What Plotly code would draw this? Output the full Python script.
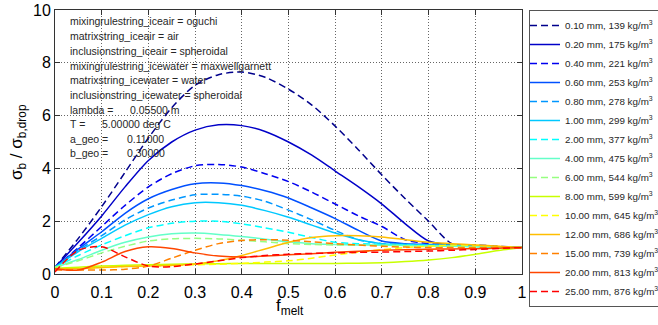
import plotly.graph_objects as go

# ---------------- data ----------------
f_melt = [0.00, 0.05, 0.10, 0.15, 0.20, 0.25, 0.30, 0.35, 0.40, 0.45, 0.50,
          0.55, 0.60, 0.65, 0.70, 0.75, 0.80, 0.85, 0.90, 0.95, 1.00]

d010 = [0.25, 1.35, 2.55, 3.85, 5.15, 6.30, 7.15, 7.55, 7.65, 7.45, 7.00,
        6.40, 5.60, 4.70, 3.75, 2.85, 2.00, 1.15, 1.10, 1.05, 1.00]
d020 = [0.25, 1.20, 2.20, 3.30, 4.30, 5.00, 5.45, 5.65, 5.62, 5.40, 5.00,
        4.50, 3.90, 3.30, 2.65, 1.90, 1.25, 1.10, 1.07, 1.03, 1.00]
d040 = [0.25, 1.00, 1.80, 2.60, 3.30, 3.80, 4.10, 4.15, 4.05, 3.80, 3.50,
        3.10, 2.65, 2.20, 1.80, 1.30, 1.15, 1.10, 1.06, 1.03, 1.00]
d060 = [0.25, 0.95, 1.60, 2.30, 2.85, 3.20, 3.42, 3.45, 3.35, 3.15, 2.88,
        2.50, 2.10, 1.65, 1.25, 1.15, 1.12, 1.10, 1.06, 1.03, 1.00]
d080 = [0.25, 0.90, 1.45, 2.05, 2.50, 2.80, 3.00, 3.02, 2.95, 2.75, 2.42,
        2.05, 1.65, 1.30, 1.15, 1.12, 1.10, 1.08, 1.05, 1.03, 1.00]
d100 = [0.25, 0.85, 1.35, 1.85, 2.25, 2.55, 2.70, 2.70, 2.60, 2.40, 2.15,
        1.85, 1.55, 1.30, 1.15, 1.12, 1.10, 1.08, 1.05, 1.03, 1.00]
d200 = [0.25, 0.70, 1.10, 1.45, 1.75, 1.92, 2.00, 2.00, 1.90, 1.75, 1.58,
        1.38, 1.20, 1.15, 1.12, 1.10, 1.08, 1.06, 1.04, 1.02, 1.00]
d400 = [0.25, 0.55, 0.90, 1.20, 1.40, 1.52, 1.55, 1.50, 1.42, 1.32, 1.22,
        1.15, 1.12, 1.10, 1.09, 1.08, 1.06, 1.05, 1.03, 1.02, 1.00]
d600 = [0.25, 0.50, 0.80, 1.05, 1.25, 1.33, 1.35, 1.33, 1.28, 1.22, 1.15,
        1.12, 1.10, 1.09, 1.08, 1.07, 1.06, 1.05, 1.03, 1.02, 1.00]
d800 = [0.22, 0.26, 0.30, 0.33, 0.35, 0.37, 0.38, 0.39, 0.40, 0.40, 0.40,
        0.40, 0.40, 0.41, 0.43, 0.47, 0.53, 0.62, 0.75, 0.89, 1.00]
d1000 = [0.18, 0.20, 0.25, 0.28, 0.30, 0.32, 0.35, 0.37, 0.40, 0.45, 0.50,
         0.60, 0.72, 0.83, 0.92, 1.00, 1.05, 1.10, 1.08, 1.04, 1.00]
d1200 = [0.20, 0.20, 0.25, 0.28, 0.30, 0.33, 0.38, 0.50, 0.70, 0.95, 1.20,
         1.38, 1.45, 1.45, 1.40, 1.30, 1.20, 1.15, 1.10, 1.05, 1.00]
d1500 = [0.15, 0.15, 0.15, 0.18, 0.30, 0.60, 0.90, 1.15, 1.27, 1.30, 1.28,
         1.22, 1.15, 1.10, 1.05, 1.02, 1.00, 1.00, 1.00, 1.00, 1.00]
d2000 = [0.20, 0.15, 0.45, 0.85, 1.03, 0.97, 0.80, 0.68, 0.64, 0.68, 0.73,
         0.77, 0.82, 0.86, 0.90, 0.92, 0.94, 0.95, 0.96, 0.98, 1.00]
d2500 = [0.08, 0.90, 1.03, 0.65, 0.30, 0.28, 0.38, 0.50, 0.62, 0.70, 0.75,
         0.78, 0.80, 0.82, 0.83, 0.85, 0.87, 0.90, 0.93, 0.97, 1.00]

series = [d010, d020, d040, d060, d080, d100, d200, d400, d600, d800,
          d1000, d1200, d1500, d2000, d2500]
diam_mm = [0.10, 0.20, 0.40, 0.60, 0.80, 1.00, 2.00, 4.00, 6.00, 8.00,
           10.00, 12.00, 15.00, 20.00, 25.00]
density = [139, 175, 221, 253, 278, 299, 377, 475, 544, 599,
           645, 686, 739, 813, 876]

info_keys = ["mixingrulestring_iceair = oguchi",
             "matrixstring_iceair = air",
             "inclusionstring_iceair = spheroidal",
             "mixingrulestring_icewater = maxwellgarnett",
             "matrixstring_icewater = water",
             "inclusionstring_icewater = spheroidal",
             "lambda =",
             "T =",
             "a_geo =",
             "b_geo ="]
info_vals = ["", "", "", "", "", "", "0.05500 m", "5.00000 deg C", "0.11000", "0.30000"]

# ---------------- style ----------------
colors = ['#00008C', '#0000C8', '#0000F0', '#0050FF', '#0096FF', '#00C8FF',
          '#00FFFF', '#64FFC8', '#96FF80', '#C8FF00', '#FFFF00', '#FFBE00',
          '#FF8000', '#FF4600', '#FF0000']
DASH = "7px,4px"

W, H = 658, 325
PL, PR, PT, PB = 55, 522, 10, 274   # plot box in pixels
L, R, T, B = PL, W - PR, PT, H - PB
pw, ph = W - L - R, H - T - B


def px2paper(x, y):
    return (x - PL) / pw, (PB - y) / ph


fig = go.Figure()
for i, ys in enumerate(series):
    fig.add_trace(go.Scatter(
        x=f_melt, y=ys, mode='lines',
        line=dict(color=colors[i], width=1.5, shape='spline', smoothing=0.8,
                  dash=(DASH if i % 2 == 0 else 'solid')),
        name=f"{diam_mm[i]:.2f} mm, {density[i]} kg/m<sup>3</sup>",
    ))

font = "Liberation Sans, Arial, Helvetica, sans-serif"
annotations = []
line_y = [21, 36, 51, 65.5, 80, 95, 109.5, 124, 138.5, 153]
val_x = {6: 128, 7: 100, 8: 125, 9: 125}
for i, key in enumerate(info_keys):
    xp, yp = px2paper(68, line_y[i])
    annotations.append(dict(x=xp, y=yp, xref='paper', yref='paper', text=key,
                            showarrow=False, xanchor='left', yanchor='middle',
                            font=dict(family=font, size=10.5, color='#262626')))
    if info_vals[i]:
        xp2, _ = px2paper(val_x[i], line_y[i])
        annotations.append(dict(x=xp2, y=yp, xref='paper', yref='paper',
                                text=info_vals[i], showarrow=False,
                                xanchor='left', yanchor='middle',
                                font=dict(family=font, size=10.5, color='#262626')))

# axis titles
xp, yp = px2paper(18, 142)
annotations.append(dict(x=xp, y=yp, xref='paper', yref='paper',
                        text="σ<sub>b</sub> / σ<sub>b,drop</sub>",
                        textangle=-90, showarrow=False, xanchor='center',
                        yanchor='middle', font=dict(family=font, size=17, color='black')))
xp, yp = px2paper(290, 307)
annotations.append(dict(x=xp, y=yp, xref='paper', yref='paper',
                        text="f<sub>melt</sub>", showarrow=False,
                        xanchor='center', yanchor='middle',
                        font=dict(family=font, size=17, color='black')))

lx, ly = px2paper(529, 10)
fig.update_layout(
    width=W, height=H,
    margin=dict(l=L, r=R, t=T, b=B, autoexpand=False),
    paper_bgcolor='white', plot_bgcolor='white',
    font=dict(family=font, color='black'),
    showlegend=True,
    legend=dict(x=lx, y=ly, xanchor='left', yanchor='top',
                bordercolor='#555', borderwidth=1, bgcolor='white',
                font=dict(family=font, size=9.8, color='#262626'),
                itemwidth=30, tracegroupgap=0, maxheight=320, indentation=-5),
    annotations=annotations,
    xaxis=dict(range=[0, 1], tickvals=[0, 0.1, 0.2, 0.3, 0.4, 0.5, 0.6, 0.7, 0.8, 0.9, 1],
               ticktext=['0', '0.1', '0.2', '0.3', '0.4', '0.5', '0.6', '0.7', '0.8', '0.9', '1'],
               showgrid=True, gridcolor='#666', griddash='1px,2px', gridwidth=1,
               ticks='inside', ticklen=5, tickcolor='#333',
               showline=True, linecolor='#333', linewidth=1, mirror='ticks',
               zeroline=False, tickfont=dict(size=16), ticklabelstandoff=4,
               ticklabeloverflow='allow'),
    yaxis=dict(range=[0, 10], tickvals=[0, 2, 4, 6, 8, 10],
               showgrid=True, gridcolor='#666', griddash='1px,2px', gridwidth=1,
               ticks='inside', ticklen=5, tickcolor='#333',
               showline=True, linecolor='#333', linewidth=1, mirror='ticks',
               zeroline=False, tickfont=dict(size=16), ticklabeloverflow='allow'),
)

fig.write_html("out.html", config={'displayModeBar': False},
               post_script="document.body.style.margin='0px';document.body.style.padding='0px';")
